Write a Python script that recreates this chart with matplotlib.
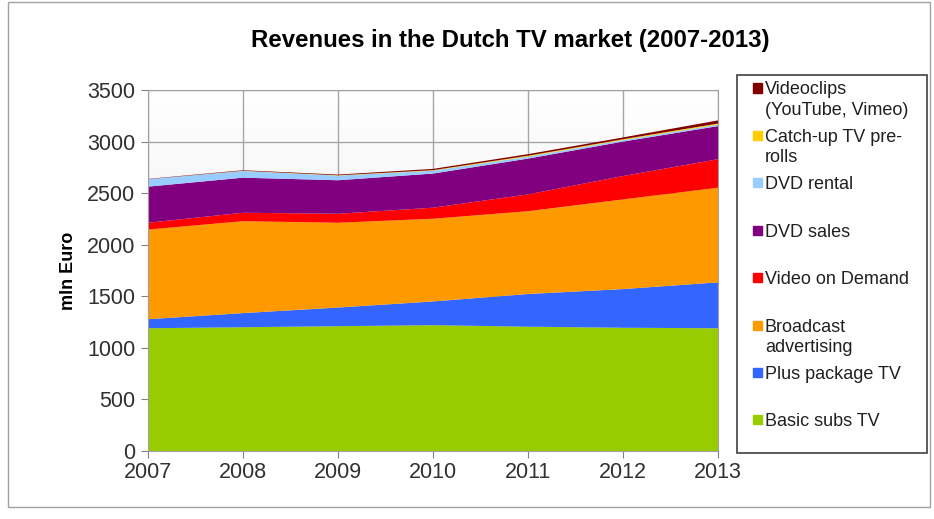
import numpy as np
import matplotlib.pyplot as plt
from matplotlib.colors import LinearSegmentedColormap
from matplotlib.patches import Rectangle

plt.rcParams['font.family'] = ['Liberation Sans', 'DejaVu Sans']

years = [2007, 2008, 2009, 2010, 2011, 2012, 2013]

# mln Euro, bottom layer first
basic_subs = [1190, 1200, 1210, 1220, 1205, 1195, 1190]
plus_package = [88, 137, 181, 230, 317, 375, 445]
broadcast_adv = [869, 891, 822, 802, 803, 869, 918]
vod = [66, 82, 87, 107, 163, 227, 276]
dvd_sales = [350, 340, 325, 331, 347, 334, 321]
dvd_rental = [72, 65, 45, 28, 20, 15, 15]
catchup = [0, 2, 3, 5, 8, 8, 10]
videoclips = [3, 5, 7, 12, 15, 17, 30]

series = [basic_subs, plus_package, broadcast_adv, vod, dvd_sales,
          dvd_rental, catchup, videoclips]
labels = ['Basic subs TV', 'Plus package TV', 'Broadcast\nadvertising',
          'Video on Demand', 'DVD sales', 'DVD rental',
          'Catch-up TV pre-\nrolls', 'Videoclips\n(YouTube, Vimeo)']
colors = ['#99CC00', '#3366FF', '#FF9900', '#FF0000', '#800080',
          '#99CCFF', '#FFCC00', '#800000']

W, H = 934, 519
fig = plt.figure(figsize=(W / 100, H / 100), dpi=100)
fig.patch.set_facecolor('white')

# outer chart frame
fig.patches.append(Rectangle((8 / W, 1 - 507 / H), (930 - 8) / W, (507 - 2) / H,
                             transform=fig.transFigure, fill=False,
                             edgecolor='#a0a0a0', lw=1))

ax = fig.add_axes([148 / W, 1 - 451 / H, (718 - 148) / W, (451 - 90) / H])

grad = LinearSegmentedColormap.from_list('g', ['#ffffff', '#e4e4e4'])
ax.imshow(np.linspace(0, 1, 256).reshape(-1, 1), cmap=grad, aspect='auto',
          extent=[2007, 2013, 0, 3500], zorder=0)

ax.stackplot(years, *series, colors=colors, linewidth=0, zorder=1)

ax.set_xlim(2007, 2013)
ax.set_ylim(0, 3500)
ax.set_xticks(years)
ax.set_yticks(range(0, 3501, 500))
ax.set_axisbelow(True)
ax.grid(color='#a6a6a6', lw=1)
for s in ax.spines.values():
    s.set_color('#a0a0a0')
ax.tick_params(colors='#808080', labelcolor='#303030', labelsize=15.5,
               length=5, direction='out')
ax.tick_params(axis='x', pad=3)
ax.tick_params(axis='y', pad=4)
ax.set_ylabel('mln Euro', fontsize=13, fontweight='bold', labelpad=7)

fig.text(510 / W, 1 - 40 / H, 'Revenues in the Dutch TV market (2007-2013)',
         ha='center', va='center', fontsize=17.3, fontweight='bold')

# legend box
fig.patches.append(Rectangle((737 / W, 1 - 453 / H), (927 - 737) / W, (453 - 75) / H,
                             transform=fig.transFigure, fill=False,
                             edgecolor='#404040', lw=1.2))
order = list(range(len(series)))[::-1]
for i, k in enumerate(order):
    yc = 88 + 47.4 * i
    fig.patches.append(Rectangle((753 / W, 1 - (yc + 4.5) / H), 9 / W, 9 / H,
                                 transform=fig.transFigure, color=colors[k]))
    for j, line in enumerate(labels[k].split('\n')):
        fig.text(765 / W, 1 - (yc + 20.5 * j) / H, line, ha='left',
                 va='center_baseline', fontsize=13, color='#202020')

fig.savefig('out.png', dpi=100)
